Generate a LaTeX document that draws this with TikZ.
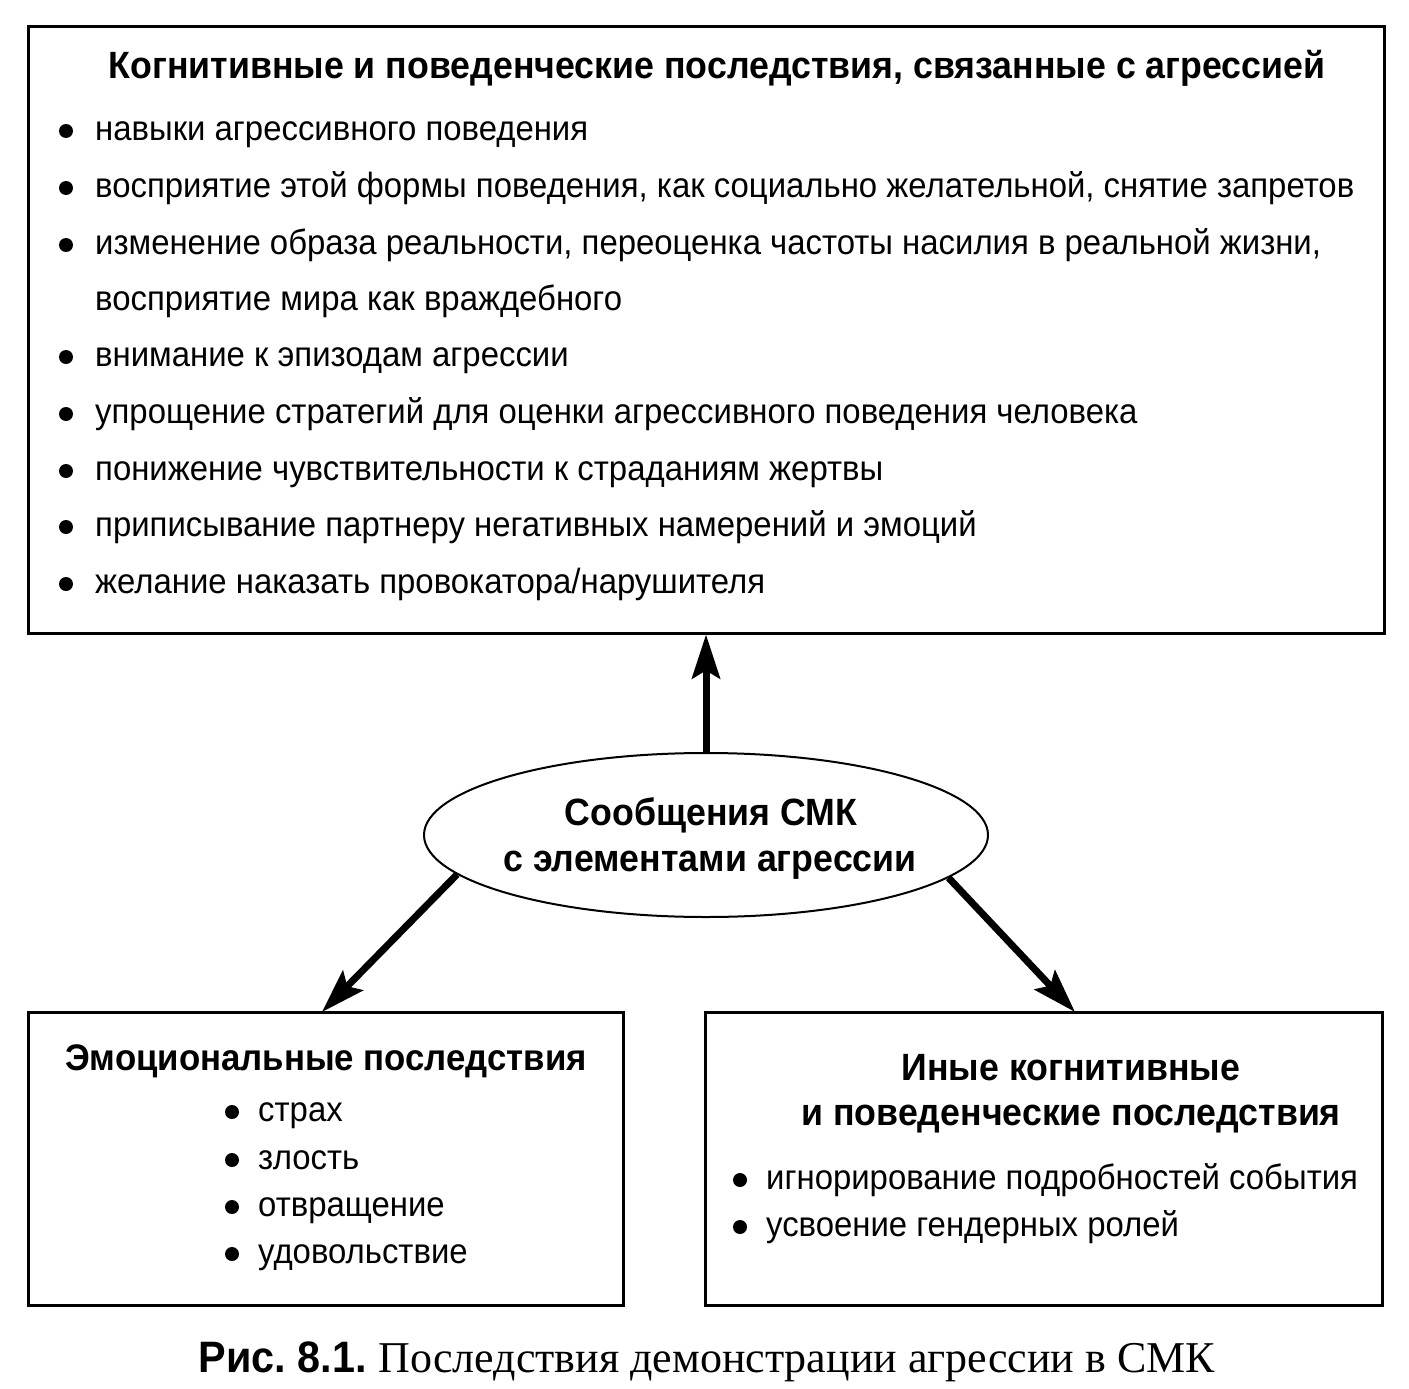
\documentclass[tikz,border=0pt]{standalone}
\usepackage{fontspec}
\setmainfont{Liberation Sans}[FakeStretch=0.94]
\newfontfamily\capserif{Liberation Serif}
\usetikzlibrary{shapes.geometric,arrows.meta}
\begin{document}
\frenchspacing
\begin{tikzpicture}[x=1pt,y=-1pt,
  box/.style={draw,line width=3pt,inner sep=0pt},
  oval/.style={draw,ellipse,line width=2pt,inner sep=0pt,minimum width=564pt,minimum height=164pt},
  dot/.style={circle,fill,inner sep=0pt,minimum size=14pt},
  txt/.style={anchor=base west,inner sep=0pt,font=\fontsize{35}{40}\selectfont},
  head/.style={anchor=base,inner sep=0pt,font=\fontsize{38}{42}\selectfont\bfseries},
  arr/.style={line width=7pt,-{Stealth[length=44pt,width=28pt,inset=8pt]}}]
\useasboundingbox (0,0) rectangle (1409,1389);
\fill[white] (0,0) rectangle (1409,1389);
% boxes
\node[box,minimum width=1356pt,minimum height=606pt] (top) at (706,330) {};
\node[box,minimum width=595pt,minimum height=293pt] (lb) at (325.5,1158.5) {};
\node[box,minimum width=677pt,minimum height=293pt] (rb) at (1043.5,1158.5) {};
\node[oval] (ell) at (706,835) {};
% top box
\node[head] (th) at (717,78) {Когнитивные и поведенческие последствия, связанные с агрессией};
\node[dot] (d1) at (66,131) {};
\node[txt] (t1) at (95,140) {навыки агрессивного поведения};
\node[dot] (d2) at (66,188) {};
\node[txt] (t2) at (95,197) {восприятие этой формы поведения, как социально желательной, снятие запретов};
\node[dot] (d3) at (66,245) {};
\node[txt] (t3) at (95,254) {изменение образа реальности, переоценка частоты насилия в реальной жизни,};
\node[txt] (t4) at (95,310) {восприятие мира как враждебного};
\node[dot] (d5) at (66,357) {};
\node[txt] (t5) at (95,366) {внимание к эпизодам агрессии};
\node[dot] (d6) at (66,414) {};
\node[txt] (t6) at (95,423) {упрощение стратегий для оценки агрессивного поведения человека};
\node[dot] (d7) at (66,471) {};
\node[txt] (t7) at (95,480) {понижение чувствительности к страданиям жертвы};
\node[dot] (d8) at (66,527) {};
\node[txt] (t8) at (95,536) {приписывание партнеру негативных намерений и эмоций};
\node[dot] (d9) at (66,584) {};
\node[txt] (t9) at (95,593) {желание наказать провокатора/нарушителя};
% ellipse
\node[head] (e1) at (711,825) {Сообщения СМК};
\node[head] (e2) at (710,871) {с элементами агрессии};
% left box
\node[head,font=\fontsize{37}{42}\selectfont\bfseries] (lh) at (326,1070) {Эмоциональные последствия};
\node[dot] (l1d) at (232,1112) {};
\node[txt] (l1) at (258,1121) {страх};
\node[dot] (l2d) at (232,1160) {};
\node[txt] (l2) at (258,1169) {злость};
\node[dot] (l3d) at (232,1207) {};
\node[txt] (l3) at (258,1216) {отвращение};
\node[dot] (l4d) at (232,1254) {};
\node[txt] (l4) at (258,1263) {удовольствие};
% right box
\node[head] (rh1) at (1071,1080) {Иные когнитивные};
\node[head] (rh2) at (1071,1125) {и поведенческие последствия};
\node[dot] (r1d) at (740,1180) {};
\node[txt] (r1) at (766,1189) {игнорирование подробностей события};
\node[dot] (r2d) at (740,1227) {};
\node[txt] (r2) at (766,1236) {усвоение гендерных ролей};
% arrows
\coordinate (lend) at (322,1012);
\coordinate (rend) at (1075,1012);
\draw[arr] (ell.north) -- (top.south);
\draw[arr] (ell.189) -- (lend);
\draw[arr] (ell.350) -- (rend);
% caption
\node[anchor=base,inner sep=0pt,font=\fontsize{44}{48}\selectfont] (cap) at (707,1372) {{\bfseries Рис. 8.1.} {\capserif Последствия демонстрации агрессии в СМК}};
\end{tikzpicture}
\end{document}
